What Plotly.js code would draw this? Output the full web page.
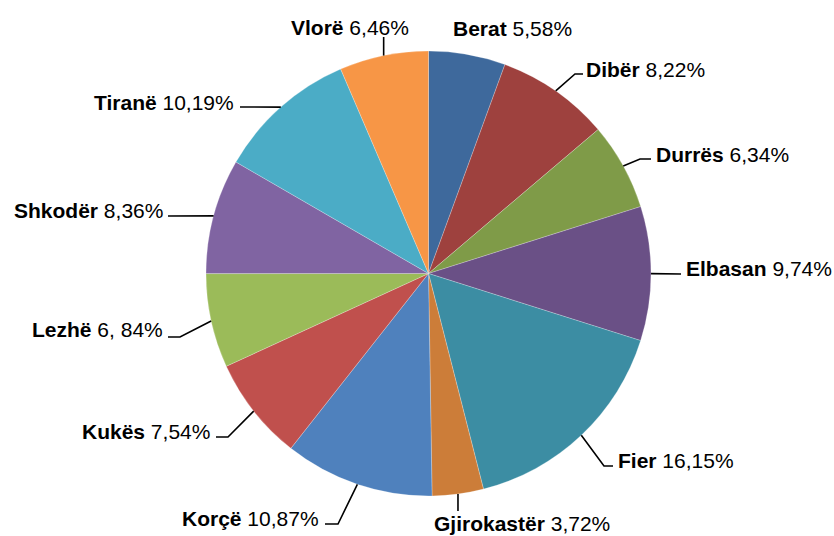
<!DOCTYPE html>
<html>
<head>
<meta charset="utf-8">
<script src="https://cdn.plot.ly/plotly-3.0.1.min.js"></script>
<style>html,body{margin:0;padding:0;background:#fff;}#chart{width:834px;height:536px;}</style>
</head>
<body>
<div id="chart"></div>
<script>
// ---- data ----
const regions = ["Berat","Dibër","Durrës","Elbasan","Fier","Gjirokastër","Korçë","Kukës","Lezhë","Shkodër","Tiranë","Vlorë"];
const shares  = [5.58, 8.22, 6.34, 9.74, 16.15, 3.72, 10.87, 7.54, 6.84, 8.36, 10.19, 6.46];
const valueLabels = ["5,58%","8,22%","6,34%","9,74%","16,15%","3,72%","10,87%","7,54%","6, 84%","8,36%","10,19%","6,46%"];
const colors = ["#3E699C","#9E413E","#7F9B48","#6A5086","#3C8DA3","#CC7D39","#4F81BD","#C0504D","#9BBB59","#8064A2","#4BACC6","#F79646"];

// ---- layout config (pixels) ----
const W = 834, H = 536;
const CX = 428.5, CY = 273.5, R = 222.5;
// label text anchor + leader path points after the slice edge point
const labelCfg = [
  {x:452, y:28,  xa:"left",  pts:null},                         // Berat
  {x:585, y:69,  xa:"left",  pts:[[575,74],[583,74]]},          // Dibër
  {x:655, y:154, xa:"left",  pts:[[640,159],[651,159]]},        // Durrës
  {x:685, y:268, xa:"left",  pts:[[681,274]]},                  // Elbasan
  {x:617, y:460, xa:"left",  pts:[[604,466],[613,466]]},        // Fier
  {x:433, y:523, xa:"left",  pts:[[null,511]]},                 // Gjirokastër
  {x:320, y:518, xa:"right", pts:[[338,524],[325,524]]},        // Korçë
  {x:211, y:431, xa:"right", pts:[[228,437],[216,437]]},        // Kukës
  {x:164, y:330, xa:"right", pts:[[180,337],[168,337]]},        // Lezhë
  {x:164, y:210, xa:"right", pts:[[168,216]]},                  // Shkodër
  {x:235, y:102, xa:"right", pts:[[240,107]]},                  // Tiranë
  {x:350, y:27,  xa:"center",pts:[[null,37]]}                   // Vlorë
];

const px = x => x / W;
const py = y => 1 - y / H;

const total = shares.reduce((a,b)=>a+b,0);
let cum = 0;
const annotations = [];
const shapes = [];
shares.forEach((v,i)=>{
  const mid = (cum + v/2) / total * 2*Math.PI;
  cum += v;
  const ex = CX + R*Math.sin(mid), ey = CY - R*Math.cos(mid);
  const c = labelCfg[i];
  annotations.push({
    xref:"paper", yref:"paper", x:px(c.x), y:py(c.y),
    xanchor:c.xa, yanchor:"middle", showarrow:false, borderpad:0,
    text:"<b>"+regions[i]+"</b> "+valueLabels[i],
    font:{family:"Liberation Sans, Arial, sans-serif", size:21, color:"#000"}
  });
  if (c.pts) {
    let d = "M"+px(ex)+","+py(ey);
    c.pts.forEach(p=>{
      const qx = p[0]===null ? ex : p[0];
      d += " L"+px(qx)+","+py(p[1]);
    });
    shapes.push({type:"path", xref:"paper", yref:"paper", path:d,
      line:{color:"#000", width:1.6}});
  }
});

const trace = {
  type:"pie",
  labels:regions,
  values:shares,
  sort:false,
  direction:"clockwise",
  rotation:0,
  textinfo:"none",
  hoverinfo:"label+percent",
  marker:{colors:colors, line:{color:"rgba(255,255,255,0.4)", width:0.6}},
  domain:{x:[(CX-R)/W,(CX+R)/W], y:[1-(CY+R)/H, 1-(CY-R)/H]},
  showlegend:false
};

Plotly.newPlot("chart",[trace],{
  width:W, height:H,
  margin:{l:0,r:0,t:0,b:0},
  paper_bgcolor:"#fff",
  showlegend:false,
  annotations:annotations,
  shapes:shapes
},{displayModeBar:false, staticPlot:true});
</script>
</body>
</html>
